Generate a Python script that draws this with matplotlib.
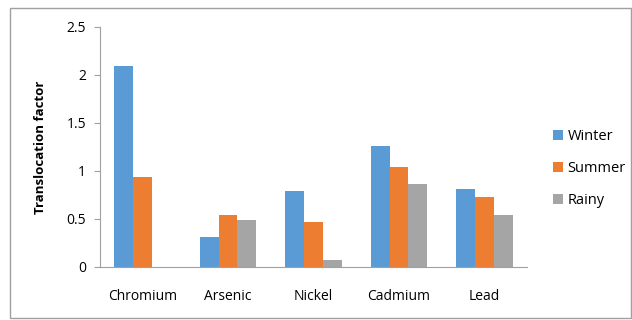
import matplotlib.pyplot as plt
from matplotlib.patches import Rectangle
import numpy as np

metals = ['Chromium', 'Arsenic', 'Nickel', 'Cadmium', 'Lead']
winter = [2.09, 0.31, 0.79, 1.26, 0.81]
summer = [0.94, 0.54, 0.47, 1.04, 0.73]
rainy = [0.0, 0.49, 0.07, 0.86, 0.54]

plt.rcParams['font.family'] = ['Open Sans', 'DejaVu Sans']

fig = plt.figure(figsize=(6.32, 3.2), dpi=100)
ax = fig.add_axes([0.158, 0.166, 0.676, 0.75])

# chart area frame
fig.patches.append(Rectangle((0.016, 0.006), 0.983, 0.968, transform=fig.transFigure,
                             fill=False, edgecolor='#a0a0a0', linewidth=1.0))

x = np.arange(len(metals))
w = 0.22
ax.bar(x - w, winter, w, color='#5b9bd5', label='Winter')
ax.bar(x, summer, w, color='#ed7d31', label='Summer')
ax.bar(x + w, rainy, w, color='#a5a5a5', label='Rainy')

ax.set_xlim(-0.5, len(metals) - 0.5)
ax.set_ylim(0, 2.5)
ax.set_yticks([0, 0.5, 1, 1.5, 2, 2.5])
ax.set_yticklabels(['0', '0.5', '1', '1.5', '2', '2.5'])
ax.set_xticks(x)
ax.set_xticklabels(metals)

for s in ['top', 'right']:
    ax.spines[s].set_visible(False)
ax.spines['left'].set_color('#a0a0a0')
ax.spines['bottom'].set_color('#a0a0a0')
ax.tick_params(axis='y', length=4, color='#a0a0a0', labelsize=10, pad=6)
ax.tick_params(axis='x', length=0, labelsize=10, pad=16)

ax.set_ylabel('Translocation factor', fontsize=9.5, fontweight='bold', labelpad=14)

ax.legend(loc='center left', bbox_to_anchor=(1.03, 0.41), frameon=False,
          fontsize=10.5, handlelength=0.7, handleheight=0.7, handletextpad=0.3,
          labelspacing=1.15)

fig.savefig('out.png', dpi=100)
